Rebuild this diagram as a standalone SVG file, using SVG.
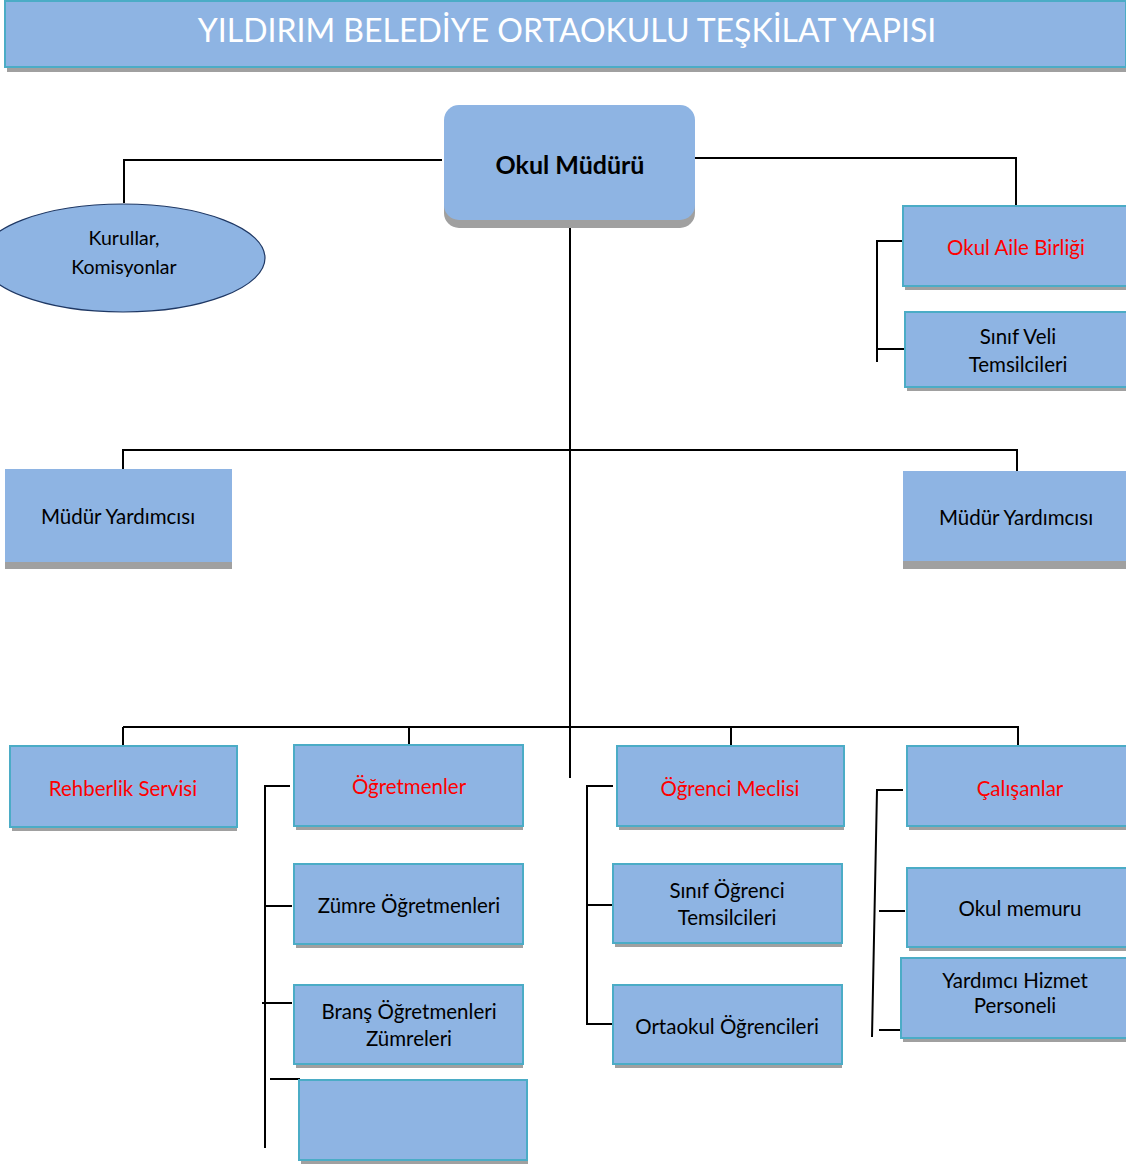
<svg xmlns="http://www.w3.org/2000/svg" width="1126" height="1165" viewBox="0 0 1126 1165">
<style>
.box{fill:#8EB4E3;stroke:#4BACC6;stroke-width:2}
.plain{fill:#8EB4E3}
.sh{fill:#A0A0A0}
.t{font-family:Lato,"Open Sans","Liberation Sans",sans-serif;font-size:20.5px;fill:#000;text-anchor:middle}
.r{fill:#FF0000}
.ln{fill:none;stroke:#000;stroke-width:2}
</style>
<rect width="1126" height="1165" fill="#fff"/>
<g id="title">
<rect class="sh" x="7" y="5" width="1119" height="67"/>
<rect class="box" x="5" y="1" width="1121" height="66"/>
<text x="567" y="42" style="font-family:Lato,'Open Sans','Liberation Sans',sans-serif;font-size:32px;fill:#fff;text-anchor:middle">YILDIRIM BELEDİYE ORTAOKULU TEŞKİLAT YAPISI</text>
</g>
<g id="connectors">
<polyline class="ln" points="442,160 124,160 124,203"/>
<polyline class="ln" points="695,158 1016,158 1016,205"/>
<line class="ln" x1="570" y1="220" x2="570" y2="778"/>
<polyline class="ln" points="123,469 123,450 1017,450 1017,471"/>
<line class="ln" x1="123" y1="727" x2="1018" y2="727"/>
<line class="ln" x1="123" y1="727" x2="123" y2="746"/>
<line class="ln" x1="409" y1="727" x2="409" y2="745"/>
<line class="ln" x1="731" y1="727" x2="731" y2="746"/>
<line class="ln" x1="1018" y1="726" x2="1018" y2="746"/>
<polyline class="ln" points="903,241 877,241 877,362"/>
<line class="ln" x1="877" y1="349" x2="905" y2="349"/>
<polyline class="ln" points="290,786 265,786 265,1148"/>
<line class="ln" x1="265" y1="906" x2="292" y2="906"/>
<line class="ln" x1="262" y1="1003" x2="292" y2="1003"/>
<line class="ln" x1="270" y1="1079" x2="300" y2="1079"/>
<polyline class="ln" points="613,786 587,786 587,1024 613,1024"/>
<line class="ln" x1="587" y1="905" x2="613" y2="905"/>
<polyline class="ln" points="903,790 877,790 872,1037"/>
<line class="ln" x1="879" y1="911" x2="905" y2="911"/>
<line class="ln" x1="879" y1="1030" x2="905" y2="1030"/>
</g>
<g id="okul-muduru">
<rect class="sh" x="444" y="113" width="251" height="115" rx="15"/>
<rect class="plain" x="444" y="105" width="251" height="115" rx="15"/>
<text class="t" x="570" y="174" style="font-size:25px;font-weight:bold">Okul Müdürü</text>
</g>
<g id="kurullar">
<ellipse cx="123" cy="258" rx="142" ry="54" fill="#8EB4E3" stroke="#1F3864" stroke-width="1.2"/>
<text class="t" x="124" y="245" style="font-size:19.5px">Kurullar,</text>
<text class="t" x="124" y="274" style="font-size:19.5px">Komisyonlar</text>
</g>
<g id="okul-aile-birligi">
<rect class="sh" x="905" y="210" width="221" height="80"/>
<rect class="box" x="903" y="206" width="224" height="80"/>
<text class="t r" x="1016" y="255">Okul Aile Birliği</text>
</g>
<g id="sinif-veli">
<rect class="sh" x="907" y="316" width="219" height="75"/>
<rect class="box" x="905" y="312" width="222" height="75"/>
<text class="t" x="1018" y="344">Sınıf Veli</text>
<text class="t" x="1018" y="372">Temsilcileri</text>
</g>
<g id="mudur-yrd-sol">
<rect class="sh" x="5" y="476" width="227" height="93"/>
<rect class="plain" x="5" y="469" width="227" height="93"/>
<text class="t" x="118" y="524">Müdür Yardımcısı</text>
</g>
<g id="mudur-yrd-sag">
<rect class="sh" x="903" y="476" width="223" height="93"/>
<rect class="plain" x="903" y="471" width="223" height="90"/>
<text class="t" x="1016" y="525">Müdür Yardımcısı</text>
</g>
<g id="rehberlik">
<rect class="sh" x="12" y="750" width="225" height="81"/>
<rect class="box" x="10" y="746" width="227" height="81"/>
<text class="t r" x="123" y="796">Rehberlik Servisi</text>
</g>
<g id="ogretmenler">
<rect class="sh" x="296" y="749" width="227" height="81"/>
<rect class="box" x="294" y="745" width="229" height="81"/>
<text class="t r" x="409" y="794">Öğretmenler</text>
</g>
<g id="zumre">
<rect class="sh" x="296" y="868" width="227" height="80"/>
<rect class="box" x="294" y="864" width="229" height="80"/>
<text class="t" x="409" y="913">Zümre Öğretmenleri</text>
</g>
<g id="brans">
<rect class="sh" x="296" y="989" width="227" height="79"/>
<rect class="box" x="294" y="985" width="229" height="79"/>
<text class="t" x="409" y="1019">Branş Öğretmenleri</text>
<text class="t" x="409" y="1046">Zümreleri</text>
</g>
<g id="bos-kutu">
<rect class="sh" x="301" y="1084" width="227" height="80"/>
<rect class="box" x="299" y="1080" width="228" height="80"/>
</g>
<g id="ogrenci-meclisi">
<rect class="sh" x="619" y="750" width="225" height="80"/>
<rect class="box" x="617" y="746" width="227" height="80"/>
<text class="t r" x="730" y="796">Öğrenci Meclisi</text>
</g>
<g id="sinif-ogrenci">
<rect class="sh" x="615" y="868" width="227" height="79"/>
<rect class="box" x="613" y="864" width="229" height="79"/>
<text class="t" x="727" y="898">Sınıf Öğrenci</text>
<text class="t" x="727" y="925">Temsilcileri</text>
</g>
<g id="ortaokul-ogrencileri">
<rect class="sh" x="615" y="989" width="227" height="79"/>
<rect class="box" x="613" y="985" width="229" height="79"/>
<text class="t" x="727" y="1034">Ortaokul Öğrencileri</text>
</g>
<g id="calisanlar">
<rect class="sh" x="909" y="750" width="217" height="80"/>
<rect class="box" x="907" y="746" width="220" height="80"/>
<text class="t r" x="1020" y="796">Çalışanlar</text>
</g>
<g id="okul-memuru">
<rect class="sh" x="909" y="872" width="217" height="79"/>
<rect class="box" x="907" y="868" width="220" height="79"/>
<text class="t" x="1020" y="916">Okul memuru</text>
</g>
<g id="yardimci-hizmet">
<rect class="sh" x="903" y="962" width="223" height="80"/>
<rect class="box" x="901" y="958" width="226" height="80"/>
<text class="t" x="1015" y="988">Yardımcı Hizmet</text>
<text class="t" x="1015" y="1013">Personeli</text>
</g>
</svg>
